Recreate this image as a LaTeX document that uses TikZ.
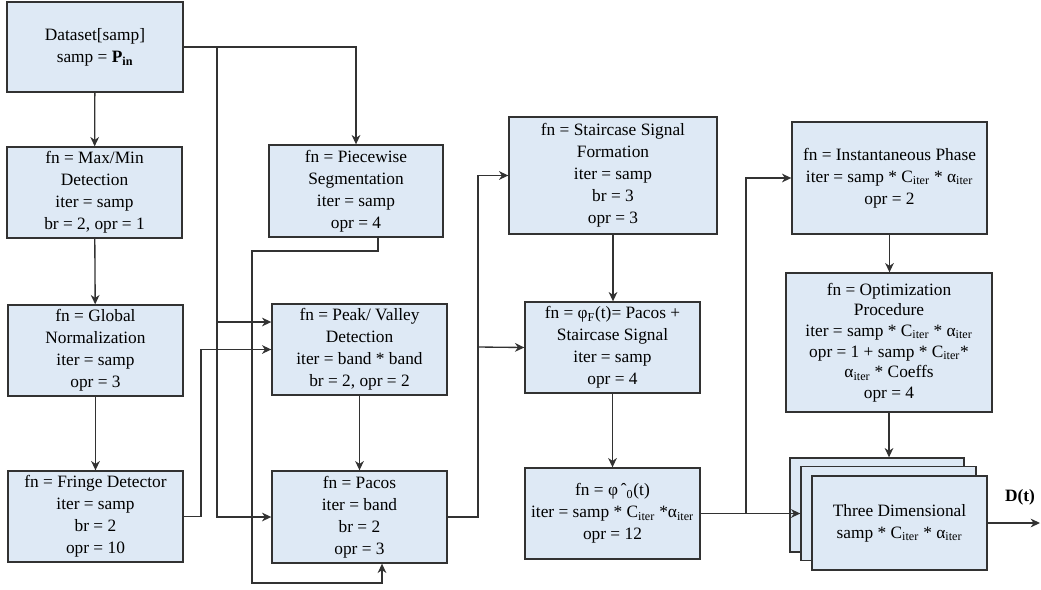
\documentclass[tikz,border=0pt]{standalone}
\usepackage{fontspec}
\setmainfont{Liberation Serif}
\usetikzlibrary{calc,arrows.meta}
\definecolor{boxfill}{RGB}{222,233,245}
\definecolor{edge}{RGB}{50,50,50}
\tikzset{blk/.style = {rectangle, draw=edge, fill=boxfill, line width=1pt, align=center, inner sep=0pt,
                       minimum width=131.25pt, minimum height=68.25pt,
                       font=\fontsize{13}{16.5}\selectfont},
         ln/.style = {draw=edge, line width=1pt}}
\newcommand{\sub}[1]{\textsubscript{#1}}

\begin{document}
\begin{tikzpicture}[x=0.75pt, y=-0.75pt, >={Stealth[length=7pt, width=6.5pt, inset=2.2pt]}]
    \useasboundingbox (0,0) rectangle (1041,589);
    \node[blk, minimum width=132pt, minimum height=67.5pt] (ds) at (95,47) {Dataset[samp]\\samp = \textbf{P}\sub{\textbf{in}}};
    \node[blk] (mm) at (94.5,192.5) {fn = Max/Min\\Detection\\iter = samp\\br = 2, opr = 1};
    \node[blk] (gn) at (95.5,350.5) {fn = Global\\Normalization\\iter = samp\\opr = 3};
    \node[blk] (fd) at (95.5,516.5) {fn = Fringe Detector\\iter = samp\\br = 2\\opr = 10};
    \node[blk, minimum width=130.5pt, minimum height=69pt] (pw) at (356,191) {fn = Piecewise\\Segmentation\\iter = samp\\opr = 4};
    \node[blk] (pv) at (359.5,349.5) {fn = Peak/ Valley\\Detection\\iter = band * band\\br = 2, opr = 2};
    \node[blk, minimum height=69pt] (pc) at (359.5,517) {fn = Pacos\\iter = band\\br = 2\\opr = 3};
    \node[blk, minimum width=156pt, minimum height=87.75pt] (sc) at (613,175.5) {fn = Staircase Signal\\Formation\\iter = samp\\br = 3\\opr = 3};
    \node[blk] (pf) at (612.5,347.5) {fn = φ\sub{F}(t)= Pacos +\\Staircase Signal\\iter = samp\\opr = 4};
    \node[blk] (po) at (612.5,513.5) {fn = φ\,ˆ\sub{0}(t)\\iter = samp * C\sub{iter} *α\sub{iter}\\opr = 12};
    \node[blk, minimum width=146.25pt, minimum height=84pt] (ip) at (889.5,178) {fn = Instantaneous Phase\\iter = samp * C\sub{iter} * α\sub{iter}\\opr = 2};
    \node[blk, minimum width=154.5pt, minimum height=104.25pt, font=\fontsize{13}{15.5}\selectfont] (op) at (889,342.5) {fn = Optimization\\Procedure\\iter = samp * C\sub{iter} * α\sub{iter}\\opr = 1 + samp * C\sub{iter}*\\α\sub{iter} * Coeffs\\opr = 4};
    \node[blk, minimum width=130.5pt, minimum height=70.5pt] (tdb) at (877,505) {};
    \node[blk, minimum height=70.5pt] (tdm) at (888.5,513.5) {};
    \node[blk, minimum height=70.5pt] (tdf) at (899.5,523) {Three Dimensional\\samp * C\sub{iter} * α\sub{iter}};
    \node[font=\fontsize{13}{15}\selectfont\bfseries] (dt) at (1020,497) {D(t)};
    \coordinate (j1) at (217,47);
    \coordinate (j2) at (478,347);
    \coordinate (j3) at (746,513.5);
    \coordinate (out) at (1040,523);
    \draw[ln,->] (ds) -- (mm);
    \draw[ln,->] (ds.east) -| (pw.north);
    \draw[ln,->] (j1) |- (pc.west);
    \draw[ln,->] (j1 |- 0,322) -- (pv.west |- 0,322);
    \draw[ln,->] (mm) -- (gn);
    \draw[ln,->] (gn) -- (fd);
    \draw[ln,->] (fd.east) -- (201,516.5) |- (pv.west);
    \draw[ln,->] ($(pw.south)+(22,0)$) |- (252,251) |- (382,583) -- ($(pc.south)+(22.5,0)$);
    \draw[ln,->] (pv) -- (pc);
    \draw[ln,->] (pc.east) -- (j2 |- pc.east) |- (sc.west);
    \draw[ln,->] (j2) -- (pf.west);
    \draw[ln,->] (sc.south) -- (sc.south |- pf.north);
    \draw[ln,->] (pf) -- (po);
    \draw[ln,->] (po.east) -- (j3) |- (ip.west);
    \draw[ln,->] (j3) -- (tdm.west);
    \draw[ln,->] (ip.south) -- (ip.south |- op.north);
    \draw[ln,->] (op.south) -- (op.south |- tdb.north);
    \draw[ln,->] (tdf.east) -- (out);
\end{tikzpicture}
\end{document}
